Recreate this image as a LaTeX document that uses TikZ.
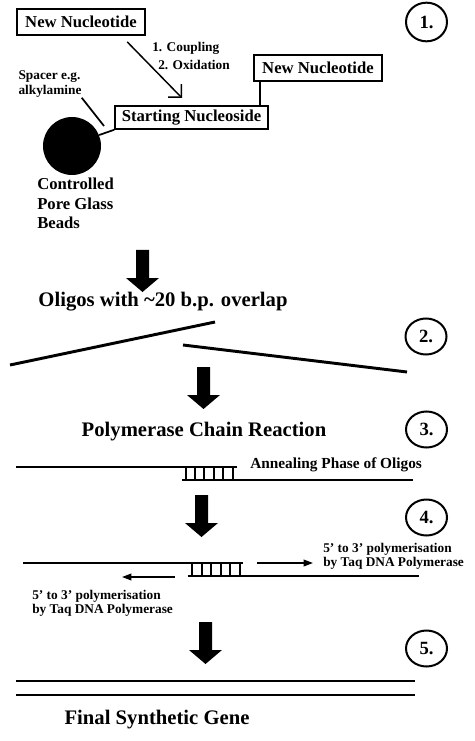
\documentclass[tikz,border=0pt]{standalone}
\usepackage{fontspec}
\setmainfont{Liberation Serif}
\usetikzlibrary{arrows.meta,positioning,shapes.geometric}

\tikzset{
    box/.style={draw, line width=1.4pt, font=\fontsize{12.5}{15}\selectfont\bfseries, inner xsep=5pt, inner ysep=2pt, minimum width=96pt, minimum height=19.5pt},
    stepnum/.style={ellipse, draw, line width=1.5pt, minimum width=30.75pt, minimum height=27pt, inner sep=0pt, font=\fontsize{14}{16}\selectfont\bfseries},
    heading/.style={font=\fontsize{15.5}{18}\selectfont\bfseries},
    lbl/.style={font=\fontsize{10}{11.5}\selectfont\bfseries, inner sep=0pt, align=left},
    strand/.style={line width=2.2pt},
    bond/.style={line width=1.3pt},
    barb/.style={line width=1.1pt, -{Straight Barb[length=7pt,width=14pt]}},
    poly/.style={line width=1.1pt, -{Triangle[length=7pt,width=5pt]}}
}
\newcommand{\bigstep}[2]{%
    \fill (#1-6.5,#2) -- (#1+6.5,#2) -- (#1+6.5,#2+28) -- (#1+16.5,#2+28) -- (#1,#2+42) -- (#1-16.5,#2+28) -- (#1-6.5,#2+28) -- cycle;}

\begin{document}
\begin{tikzpicture}[x=0.75pt,y=-0.75pt]
    \useasboundingbox (0,0) rectangle (474,741);

    %1. solid phase
    \node[stepnum, minimum height=29pt] (n1) at (426.5,22) {1.};
    \node[box] (nuc1) at (81,22) {New Nucleotide};
    \node[box] (nuc2) at (318,68) {New Nucleotide};
    \node[box, minimum width=0pt, minimum height=17pt] (start) at (191.5,117.5) {Starting Nucleoside};
    \node[circle, fill, minimum size=43.5pt, inner sep=0pt] (bead) at (72,146) {};
    \node[lbl, anchor=west] (coup1) at (152,48) {1. Coupling};
    \node[lbl, anchor=west] (coup2) at (158,65) {2. Oxidation};
    \node[lbl] (spacer) at (50,84) {Spacer e.g.\\alkylamine};
    \node[lbl, font=\fontsize{12.5}{14.6}\selectfont\bfseries, anchor=north west] (cpg) at (37,178) {Controlled\\Pore Glass\\Beads};
    \coordinate (couple) at (182,98);
    \coordinate (spacerend) at (104,126);
    \draw[barb] ([xshift=-14pt,yshift=-4.5pt]nuc1.south east) -- (couple);
    \draw[line width=1.4pt] ([xshift=5.25pt]nuc2.south west) -- ([xshift=5.25pt]nuc2.south west |- start.north);
    \draw[line width=1.3pt] (bead.22) -- (start.south west);
    \draw[line width=1.3pt] (spacer.south east) -- (spacerend);

    %2. oligos
    \bigstep{142.5}{250}
    \node[heading] (oligo) at (163,302) {Oligos with \textasciitilde20 b.p. overlap};
    \node[stepnum] (n2) at (426,336.5) {2.};
    \draw[strand] (10,365) -- (215,322);
    \draw[strand] (183,345) -- (407,372);
    \bigstep{203.5}{367}

    %3. annealing
    \node[heading] (pcr) at (204,432) {Polymerase Chain Reaction};
    \node[stepnum] (n3) at (426.5,429.5) {3.};
    \draw[strand] (16,467) -- (237,467);
    \draw[strand] (182,480) -- (413,480);
    \foreach \x in {186,195,204,214,223,233}
        \draw[bond] (\x,467) -- (\x,480);
    \node[lbl, font=\fontsize{11.5}{13}\selectfont\bfseries, anchor=west] (anneal) at (250,465) {Annealing Phase of Oligos};
    \bigstep{201.5}{495}

    %4. extension
    \node[stepnum] (n4) at (426.5,517.5) {4.};
    \draw[strand] (23,563) -- (243,563);
    \draw[strand] (188,576) -- (419,576);
    \foreach \x in {192,202,211,221,230,240}
        \draw[bond] (\x,563) -- (\x,576);
    \draw[poly] (257,563) -- (313,563);
    \draw[poly] (175,577) -- (122,577);
    \node[lbl, font=\fontsize{10}{10.5}\selectfont\bfseries, anchor=north west] (polyR) at (323,543) {5' to 3' polymerisation\\by Taq DNA Polymerase};
    \node[lbl, font=\fontsize{10}{10.5}\selectfont\bfseries, anchor=north west] (polyL) at (32,590) {5' to 3' polymerisation\\by Taq DNA Polymerase};
    \bigstep{205.5}{622}

    %5. gene
    \node[stepnum] (n5) at (426.5,648.5) {5.};
    \draw[strand] (16,681) -- (415,681);
    \draw[strand] (16,695) -- (415,695);
    \node[heading] (gene) at (157,720) {Final Synthetic Gene};
\end{tikzpicture}
\end{document}
